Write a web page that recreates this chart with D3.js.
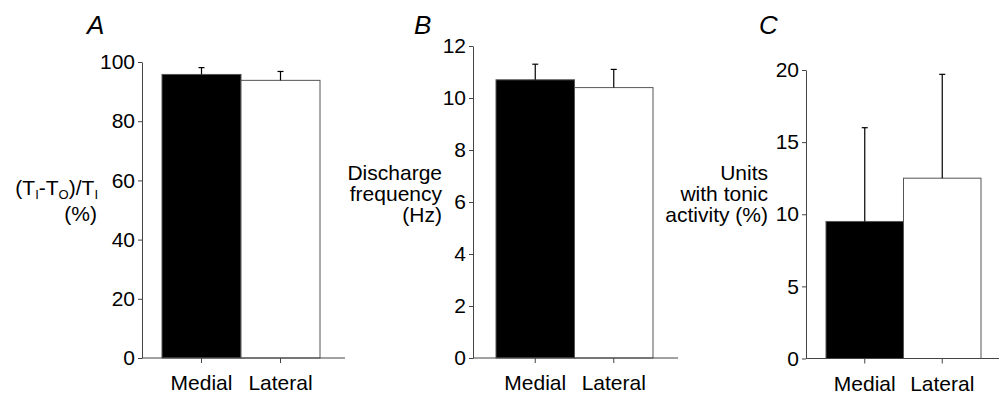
<!DOCTYPE html>
<html>
  <head>
    <style>
      html,
      body {
        margin: 0;
        padding: 0;
        background: #fff;
      }
      svg text {
        font-family: "Liberation Sans", Arial, sans-serif;
        fill: #000;
      }
    </style>
  </head>
  <body>
    <div id="viz"></div>
    <script src="https://d3js.org/d3.v7.min.js"></script>
    <script>
      const width = 999;
      const height = 393;

      const categories = ["Medial", "Lateral"];

      // A: (TI-TO)/TI (%)
      const ratioMean = [95.8, 93.8];
      const ratioErr = [2.3, 3.0];
      const ratioTicks = [0, 20, 40, 60, 80, 100];

      // B: discharge frequency (Hz)
      const freqMean = [10.7, 10.4];
      const freqErr = [0.6, 0.7];
      const freqTicks = [0, 2, 4, 6, 8, 10, 12];

      // C: units with tonic activity (%)
      const tonicMean = [9.5, 12.5];
      const tonicErr = [6.5, 7.2];
      const tonicTicks = [0, 5, 10, 15, 20];

      const barFill = ["#000", "#fff"];

      const svg = d3
        .select("#viz")
        .append("svg")
        .attr("width", width)
        .attr("height", height);

      const panels = [
        {
          letter: "A", letterX: 87, axisX: 142, axisEnd: 345,
          barL: 162, barR: 320, top: 62, bottom: 358,
          max: 100, ticks: ratioTicks, mean: ratioMean, err: ratioErr,
        },
        {
          letter: "B", letterX: 414, axisX: 473, axisEnd: 678,
          barL: 496, barR: 653, top: 46, bottom: 358,
          max: 12, ticks: freqTicks, mean: freqMean, err: freqErr,
        },
        {
          letter: "C", letterX: 759, axisX: 806, axisEnd: 999,
          barL: 826, barR: 981, top: 70, bottom: 358.5,
          max: 20, ticks: tonicTicks, mean: tonicMean, err: tonicErr,
        },
      ];

      panels.forEach((p) => {
        const g = svg.append("g");
        const y = d3.scaleLinear().domain([0, p.max]).range([p.bottom, p.top]);
        const x = d3
          .scaleBand()
          .domain(categories)
          .range([p.barL, p.barR])
          .padding(0);

        // bars
        g.selectAll("rect.bar")
          .data(categories)
          .enter()
          .append("rect")
          .attr("class", "bar")
          .attr("x", (d) => x(d))
          .attr("width", x.bandwidth())
          .attr("y", (d, i) => y(p.mean[i]))
          .attr("height", (d, i) => p.bottom - y(p.mean[i]))
          .attr("fill", (d, i) => barFill[i])
          .attr("stroke", "#555")
          .attr("stroke-width", 1);

        // error bars
        const eb = g
          .selectAll("g.err")
          .data(categories)
          .enter()
          .append("g")
          .attr("class", "err");
        eb.append("line")
          .attr("x1", (d) => x(d) + x.bandwidth() / 2)
          .attr("x2", (d) => x(d) + x.bandwidth() / 2)
          .attr("y1", (d, i) => y(p.mean[i]))
          .attr("y2", (d, i) => y(p.mean[i] + p.err[i]))
          .attr("stroke", "#000")
          .attr("stroke-width", 1.2);
        eb.append("line")
          .attr("x1", (d) => x(d) + x.bandwidth() / 2 - 3)
          .attr("x2", (d) => x(d) + x.bandwidth() / 2 + 3)
          .attr("y1", (d, i) => y(p.mean[i] + p.err[i]))
          .attr("y2", (d, i) => y(p.mean[i] + p.err[i]))
          .attr("stroke", "#000")
          .attr("stroke-width", 1.2);

        // y axis
        const yAxis = g
          .append("g")
          .attr("transform", `translate(${p.axisX},0)`)
          .call(
            d3.axisLeft(y).tickValues(p.ticks).tickSize(4).tickSizeOuter(0).tickPadding(3)
          );
        yAxis.select(".domain").attr("stroke", "#444");
        yAxis.selectAll(".tick line").attr("stroke", "#444");
        yAxis
          .selectAll(".tick text")
          .style("font-size", "21px")
          .attr("fill", "#000");

        // x axis
        const xAxis = g
          .append("g")
          .attr("transform", `translate(0,${p.bottom})`)
          .call(d3.axisBottom(x).tickSize(5).tickSizeOuter(0));
        xAxis.select(".domain").remove();
        xAxis.selectAll(".tick line").attr("stroke", "#444");
        xAxis
          .selectAll(".tick text")
          .attr("y", 32)
          .attr("dy", 0)
          .style("font-size", "21px")
          .attr("fill", "#000");
        g.append("line")
          .attr("x1", p.axisX)
          .attr("x2", p.axisEnd)
          .attr("y1", p.bottom)
          .attr("y2", p.bottom)
          .attr("stroke", "#444");

        // panel letter
        g.append("text")
          .attr("x", p.letterX)
          .attr("y", 34)
          .style("font-size", "26px")
          .style("font-style", "italic")
          .text(p.letter);
      });

      // y axis labels
      const labA = svg
        .append("text")
        .attr("x", 98)
        .attr("y", 195)
        .attr("text-anchor", "end")
        .style("font-size", "21px");
      labA.append("tspan").text("(T");
      labA.append("tspan").attr("dy", 4).style("font-size", "13px").text("I");
      labA.append("tspan").attr("dy", -4).text("-T");
      labA.append("tspan").attr("dy", 4).style("font-size", "13px").text("O");
      labA.append("tspan").attr("dy", -4).text(")/T");
      labA.append("tspan").attr("dy", 4).style("font-size", "13px").text("I");
      svg
        .append("text")
        .attr("x", 97)
        .attr("y", 221)
        .attr("text-anchor", "end")
        .style("font-size", "21px")
        .text("(%)");

      const labB = ["Discharge", "frequency", "(Hz)"];
      svg
        .selectAll("text.labB")
        .data(labB)
        .enter()
        .append("text")
        .attr("class", "labB")
        .attr("x", 442)
        .attr("y", (d, i) => 180 + i * 21)
        .attr("text-anchor", "end")
        .style("font-size", "21px")
        .text((d) => d);

      const labC = ["Units", "with tonic", "activity (%)"];
      svg
        .selectAll("text.labC")
        .data(labC)
        .enter()
        .append("text")
        .attr("class", "labC")
        .attr("x", 768)
        .attr("y", (d, i) => 180 + i * 21)
        .attr("text-anchor", "end")
        .style("font-size", "21px")
        .text((d) => d);
    </script>
  </body>
</html>
